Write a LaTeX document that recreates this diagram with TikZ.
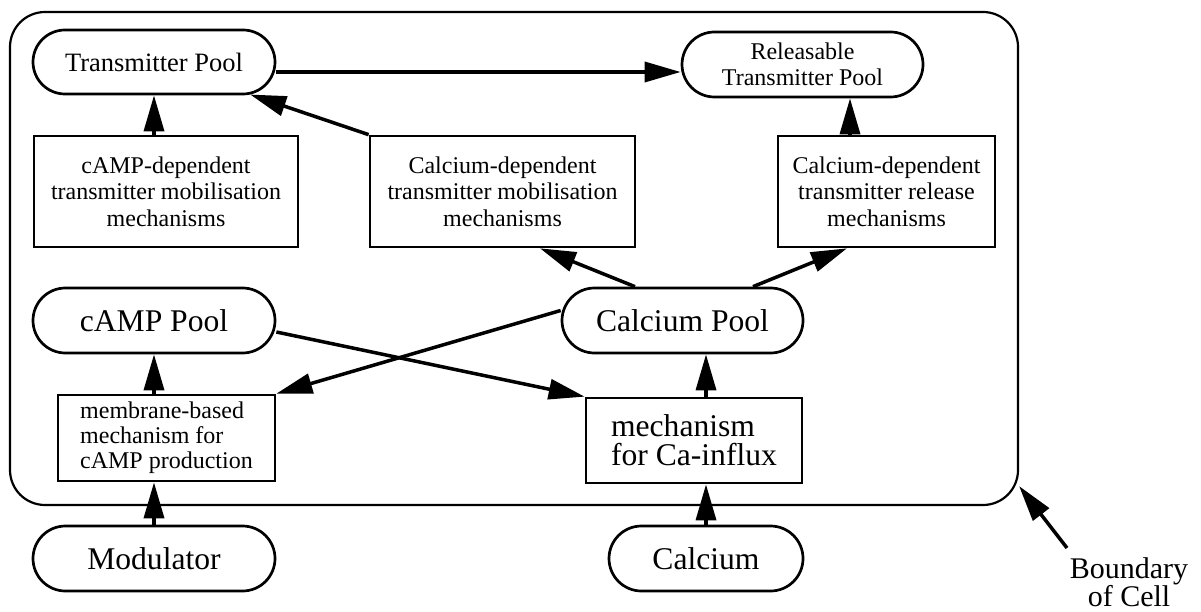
\documentclass[tikz,border=0pt]{standalone}
\usepackage{fontspec}
\setmainfont{Liberation Serif}
\usetikzlibrary{shapes.misc, arrows.meta}

\begin{document}
\begin{tikzpicture}[
  x=1pt, y=-1pt,
  pool/.style={rounded rectangle, draw, line width=2.7pt, minimum height=65pt, inner sep=0pt, font=\fontsize{31.6}{29}\selectfont},
  mech/.style={rectangle, draw, line width=2.7pt, inner sep=0pt, align=center, font=\fontsize{24}{26.5}\selectfont},
  arrow/.style={-{Triangle[length=36pt, width=20pt]}, line width=3.5pt},
  cell/.style={rectangle, draw, line width=2.2pt, rounded corners=35pt}
]
  \useasboundingbox (0,0) rectangle (1201,612);

  % Cell boundary
  \node[cell, minimum width=1008pt, minimum height=493pt] (cell) at (514,258.5) {};

  % Nodes
  \node[pool, minimum width=242pt, minimum height=64pt, font=\fontsize{26.5}{29}\selectfont] (tp) at (154,62) {Transmitter Pool};
  \node[pool, minimum width=241pt, align=center, font=\fontsize{24}{26}\selectfont] (relpool) at (802.5,64.5) {Releasable\\Transmitter Pool};
  \node[mech, minimum width=264pt, minimum height=111pt] (campdep) at (166,191.5) {cAMP-dependent\\transmitter mobilisation\\mechanisms};
  \node[mech, minimum width=265pt, minimum height=111pt] (camob) at (502.5,191.5) {Calcium-dependent\\transmitter mobilisation\\mechanisms};
  \node[mech, minimum width=217pt, minimum height=111pt] (carel) at (886.5,191.5) {Calcium-dependent\\transmitter release\\mechanisms};
  \node[pool, minimum width=242pt] (camp) at (154,320.5) {cAMP Pool};
  \node[pool, minimum width=241pt] (capool) at (682.5,320.5) {Calcium Pool};
  \node[mech, minimum width=217pt, minimum height=86pt, align=left, font=\fontsize{24}{25}\selectfont] (memb) at (166.5,438) {membrane-based\\mechanism for\\cAMP production};
  \node[mech, minimum width=216pt, minimum height=85pt, align=left, font=\fontsize{31.6}{29}\selectfont] (influx) at (694,440.5) {mechanism\\for Ca-influx};
  \node[pool, minimum width=242pt] (mod) at (154,558.5) {Modulator};
  \node[pool, minimum width=194pt] (calcium) at (706,558.5) {Calcium};
  \node[anchor=north, inner sep=0pt, align=center, font=\fontsize{30}{23}\selectfont] (bnd) at (1129,557) {Boundary\\of Cell};

  % Paths
  \draw[arrow] ([yshift=-10pt]tp.east) -- ([yshift=-10pt]tp.east -| relpool.west);
  \draw[arrow] (campdep.north -| tp.south) -- (tp.south);
  \draw[arrow] (camob.north west) -- (tp);
  \draw[arrow] ([xshift=-36.5pt]carel.north) -- ([xshift=-36.5pt]carel.north |- relpool.south);
  \draw[arrow] ([xshift=-47.5pt]capool.north) -- ([xshift=37.5pt]camob.south);
  \draw[arrow] ([xshift=70.5pt]capool.north) -- ([xshift=-39.5pt]carel.south);
  \draw[arrow] ([yshift=10pt]capool.west) -- (memb.north east);
  \draw[arrow] ([yshift=-11.5pt]camp.east) -- (influx.north west);
  \draw[arrow] (memb.north -| camp.south) -- (camp.south);
  \draw[arrow] (mod.north) -- (mod.north |- memb.south);
  \draw[arrow] (calcium.north) -- (calcium.north |- influx.south);
  \draw[arrow] (influx.north -| calcium.north) -- (capool.south -| calcium.north);
  \draw[arrow] ([xshift=-62pt, yshift=9pt]bnd.north) -- ([yshift=20pt]cell.south east);
\end{tikzpicture}
\end{document}
